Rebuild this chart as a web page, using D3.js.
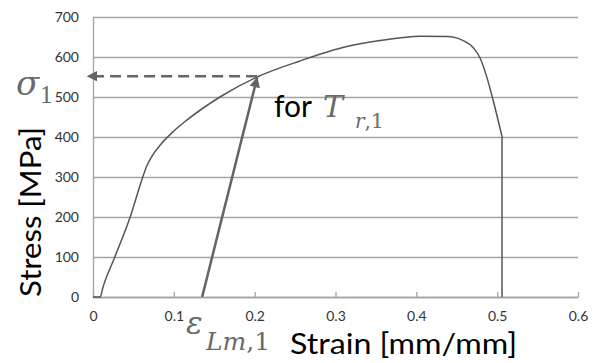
<!DOCTYPE html>
<html><head><meta charset="utf-8">
<script src="https://cdn.jsdelivr.net/npm/d3@7"></script>
<style>
body{margin:0;background:#fff;}
svg{display:block;}
</style></head>
<body>
<svg id="c" width="595" height="363"></svg>
<script>
// ---- data ----
const strain = [0, 0.009, 0.012, 0.027, 0.046, 0.060, 0.066, 0.073, 0.084, 0.100, 0.116, 0.157, 0.203, 0.256, 0.314, 0.355, 0.405, 0.438, 0.458, 0.471, 0.479, 0.487, 0.495, 0.506];
const stress = [0, 0, 22, 100, 200, 290, 325, 352, 382, 415, 442, 500, 550, 590, 626, 641, 652, 651, 641, 622, 597, 551, 492, 401];
const fracture = [[0.506, 401], [0.506, 0]];
const unloadArrow = [[0.135, 0], [0.203, 548]];
const sigmaLine = [[0.203, 552], [-0.0065, 552]];
const xTicks = [0, 0.1, 0.2, 0.3, 0.4, 0.5, 0.6];
const xTickLabels = ["0", "0.1", "0.2", "0.3", "0.4", "0.5", "0.6"];
const yTicks = [0, 100, 200, 300, 400, 500, 600, 700];
const xTitle = "Strain [mm/mm]";
const yTitle = "Stress [MPa]";

const svg = d3.select("#c");
const L = 93, R = 578, T = 17, B = 297;
const x = d3.scaleLinear().domain([0, 0.6]).range([L, R]);
const y = d3.scaleLinear().domain([0, 700]).range([B, T]);

const grid = "#a3a3a3";
const sans = "Lato, 'Open Sans', sans-serif";

// y axis with gridlines
const ya = svg.append("g").attr("transform", `translate(${L},0)`)
  .call(d3.axisLeft(y).tickValues(yTicks).tickSize(-(R - L)).tickSizeOuter(0).tickPadding(14));
ya.select(".domain").attr("stroke", grid).attr("stroke-width", 1.3);
ya.selectAll(".tick line").attr("stroke", grid).attr("stroke-width", 1.3);
ya.selectAll("text").attr("font-family", sans).attr("font-size", 14).attr("fill", "#333");

// x axis
const xa = svg.append("g").attr("transform", `translate(0,${B})`)
  .call(d3.axisBottom(x).tickValues(xTicks).tickFormat((d, i) => xTickLabels[i]).tickSize(-5).tickSizeOuter(0).tickPadding(14));
xa.select(".domain").attr("stroke", grid).attr("stroke-width", 1.3);
xa.selectAll(".tick line").attr("stroke", grid).attr("stroke-width", 1.3);
xa.selectAll("text").attr("font-family", sans).attr("font-size", 14).attr("fill", "#333");

// curve
const pts = strain.map((s, i) => [s, stress[i]]);
const lineC = d3.line().x(d => x(d[0])).y(d => y(d[1])).curve(d3.curveMonotoneX);
const lineL = d3.line().x(d => x(d[0])).y(d => y(d[1]));
svg.append("path").attr("d", lineC(pts)).attr("fill", "none").attr("stroke", "#555").attr("stroke-width", 1.5);
svg.append("path").attr("d", lineL(fracture)).attr("fill", "none").attr("stroke", "#555").attr("stroke-width", 1.5);

// markers
const defs = svg.append("defs");
defs.append("marker").attr("id", "ah").attr("viewBox", "0 0 10 10").attr("refX", 9).attr("refY", 5)
  .attr("markerWidth", 4.4).attr("markerHeight", 4.2).attr("markerUnits", "strokeWidth").attr("orient", "auto")
  .append("path").attr("d", "M0,0 L10,5 L0,10 z").attr("fill", "#636363");

svg.append("path").attr("d", lineL(unloadArrow)).attr("fill", "none").attr("stroke", "#636363")
  .attr("stroke-width", 2.5).attr("marker-end", "url(#ah)");
svg.append("path").attr("d", lineL(sigmaLine)).attr("fill", "none").attr("stroke", "#666")
  .attr("stroke-width", 2.5).attr("stroke-dasharray", "11,6").attr("marker-end", "url(#ah)");

// axis titles
svg.append("text").attr("x", 403.5).attr("y", 354).attr("text-anchor", "middle")
  .attr("font-family", sans).attr("font-size", 28).attr("fill", "#000")
  .attr("textLength", 227).attr("lengthAdjust", "spacingAndGlyphs").text(xTitle);
svg.append("text").attr("transform", "translate(41,212) rotate(-90)").attr("text-anchor", "middle")
  .attr("font-family", sans).attr("font-size", 29).attr("fill", "#000")
  .attr("textLength", 170).attr("lengthAdjust", "spacingAndGlyphs").text(yTitle);

// math labels
const serif = "'DejaVu Serif', 'Liberation Serif', serif";
const mathCol = "#6a6a6a";
function mtext(parts, x0, y0, size, family) {
  const t = svg.append("text").attr("x", x0).attr("y", y0).attr("fill", mathCol)
    .attr("font-family", family || serif).attr("font-size", size);
  parts.forEach(p => t.append("tspan").attr("font-style", p[1] ? "italic" : "normal").text(p[0]));
  return t;
}
// sigma_1
mtext([["σ", true]], 16, 95, 34);
mtext([["1", false]], 40, 103, 25, "'Liberation Serif', serif");

// for T_{r,1}
svg.append("text").attr("x", 274).attr("y", 117).attr("font-family", sans).attr("font-size", 30).attr("fill", "#000").text("for");
mtext([["T", true]], 323, 117, 30);
mtext([["r", true], [",1", false]], 355, 128, 20);

// epsilon_{Lm,1}
mtext([["ε", true]], 186, 334, 31);
mtext([["Lm", true], [",1", false]], 206, 350, 25);
</script>
</body></html>
